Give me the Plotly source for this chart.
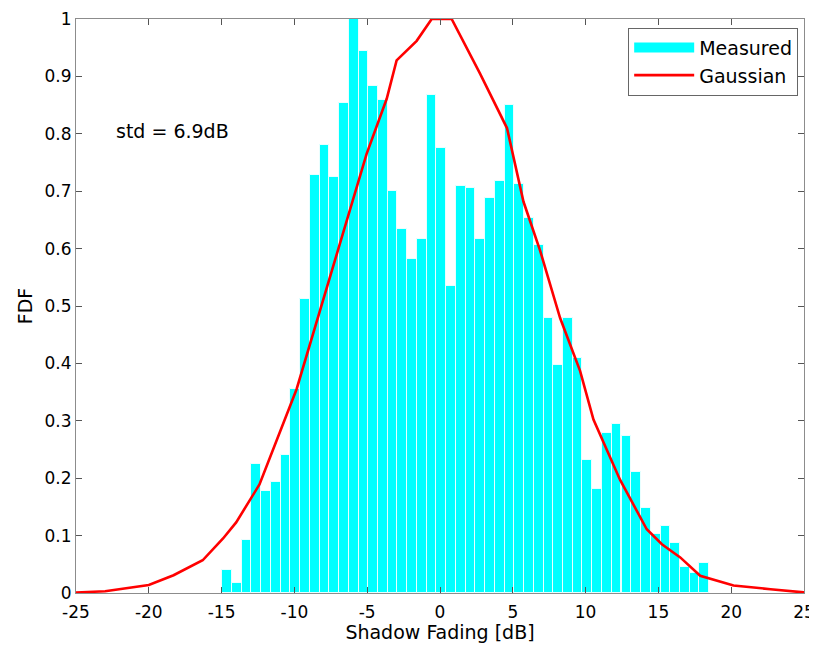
import plotly.graph_objects as go

# Histogram bin centres (dB) and normalised heights
bin_centers = [-14.63, -13.96, -13.29, -12.62, -11.95, -11.28, -10.61, -9.95, -9.28, -8.61,
               -7.94, -7.27, -6.60, -5.93, -5.26, -4.60, -3.93, -3.26, -2.59, -1.92,
               -1.25, -0.58, 0.09, 0.76, 1.43, 2.10, 2.77, 3.43, 4.10, 4.77,
               5.44, 6.11, 6.78, 7.45, 8.12, 8.79, 9.45, 10.12, 10.79, 11.46,
               12.13, 12.80, 13.47, 14.14, 14.81, 15.48, 16.14, 16.81, 17.48, 18.15]
bin_width = 0.669
measured = [0.040, 0.017, 0.092, 0.224, 0.178, 0.193, 0.241, 0.355, 0.513, 0.729,
            0.780, 0.724, 0.853, 1.000, 0.945, 0.884, 0.859, 0.700, 0.634, 0.582,
            0.616, 0.867, 0.775, 0.535, 0.709, 0.705, 0.616, 0.688, 0.717, 0.851,
            0.712, 0.654, 0.606, 0.479, 0.398, 0.479, 0.410, 0.231, 0.181, 0.278,
            0.294, 0.274, 0.210, 0.148, 0.102, 0.116, 0.087, 0.046, 0.035, 0.053]

# Gaussian fit curve (sampled points)
gauss_x = [-25, -23, -20, -18.3, -16.3, -14.9, -14.0, -12.4, -9.85, -6.87,
           -5.04, -3.66, -2.98, -1.6, -0.57, 0.8, 2.75, 4.6, 5.73, 6.87,
           8.25, 9.62, 10.54, 12.37, 14.2, 15.24, 16.5, 17.87, 20.16, 22.7, 25]
gauss_y = [0.001, 0.003, 0.014, 0.031, 0.057, 0.095, 0.123, 0.189, 0.355, 0.61,
           0.765, 0.861, 0.928, 0.962, 1.0, 1.0, 0.905, 0.81, 0.682, 0.597,
           0.479, 0.387, 0.302, 0.197, 0.111, 0.085, 0.062, 0.030, 0.013, 0.0066, 0.001]

x_ticks = [-25, -20, -15, -10, -5, 0, 5, 10, 15, 20, 25]
x_tick_labels = ["-25", "-20", "-15", "-10", "-5", "0", "5", "10", "15", "20", "25"]
y_ticks = [0, 0.1, 0.2, 0.3, 0.4, 0.5, 0.6, 0.7, 0.8, 0.9, 1]
y_tick_labels = ["0", "0.1", "0.2", "0.3", "0.4", "0.5", "0.6", "0.7", "0.8", "0.9", "1"]

font_family = "DejaVu Sans, Liberation Sans, Arial, sans-serif"
cyan = "#00FFFF"

fig = go.Figure()
fig.add_trace(go.Bar(
    x=bin_centers, y=measured, width=[bin_width] * len(bin_centers),
    name="Measured", legendgroup="measured", showlegend=False,
    marker=dict(color=cyan, line=dict(color="#E8FFFF", width=1)),
))
# legend entry for the histogram drawn as a wide patch (MATLAB style)
fig.add_trace(go.Scatter(
    x=[None], y=[None], mode="lines", name="Measured", legendgroup="measured",
    line=dict(color=cyan, width=18), hoverinfo="skip",
))
fig.add_trace(go.Scatter(
    x=gauss_x, y=gauss_y, mode="lines", name="Gaussian",
    line=dict(color="#FF0000", width=2.6),
))

fig.add_annotation(
    x=-22.4, y=0.805, xref="x", yref="y", text="std = 6.9dB",
    showarrow=False, xanchor="left", yanchor="middle",
    font=dict(family=font_family, size=19, color="black"),
)

axis_common = dict(
    showline=True, linecolor="#8c8c8c", linewidth=1.2, mirror="ticks",
    ticks="inside", ticklen=6, tickcolor="#555555", showgrid=False, zeroline=False,
    automargin=False,
    tickfont=dict(family=font_family, size=17, color="black"),
)

fig.update_layout(
    width=809, height=636,
    margin=dict(l=68, r=13, t=11, b=51, autoexpand=False),
    paper_bgcolor="white", plot_bgcolor="white",
    bargap=0,
    showlegend=True,
    legend=dict(
        x=0.992, y=0.985, xanchor="right", yanchor="top",
        bgcolor="white", bordercolor="#666666", borderwidth=1,
        font=dict(family=font_family, size=19, color="black"),
        itemwidth=60, tracegroupgap=0,
    ),
    xaxis=dict(range=[-25, 25], tickvals=x_ticks, ticktext=x_tick_labels,
               ticklabelstandoff=3,
               title=dict(text="Shadow Fading [dB]", standoff=0,
                          font=dict(family=font_family, size=19, color="black")),
               **axis_common),
    yaxis=dict(range=[0, 1], tickvals=y_ticks, ticktext=y_tick_labels,
               title=dict(text="FDF", standoff=6,
                          font=dict(family=font_family, size=19, color="black")),
               **axis_common),
)

fig.write_html("out.html")
